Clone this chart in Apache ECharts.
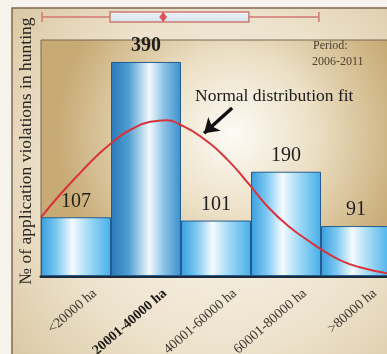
<!DOCTYPE html>
<html>
<head>
<meta charset="utf-8">
<script src="https://cdn.jsdelivr.net/npm/echarts@6/dist/echarts.min.js"></script>
<style>
  html, body { margin: 0; padding: 0; background: #f6f2ec; }
  #chart { width: 387px; height: 354px; }
</style>
</head>
<body>
<div id="chart"></div>
<script>
// Hunting-ground area classes and number of violations per class
const categories = ['<20000 ha', '20001-40000 ha', '40001-60000 ha', '60001-80000 ha', '>80000 ha'];
const violations = [107, 390, 101, 190, 91];

// Fitted normal curve, sampled along the area axis (ha)
const fitArea = [0, 5400, 11200, 16800, 22000, 25400, 31200, 36000, 39700, 45400, 53100, 59700, 65400, 71100, 76900, 79700, 85400, 91100, 98900];
const fitCount = [107, 148, 188, 224, 252, 266, 281, 284, 276, 255, 213, 165, 122, 89, 62, 50, 29, 16, 5];

// Box plot of area (ha): min, Q1, median, Q3, max, and mean
const areaBox = [300, 19700, 34900, 59400, 79400];
const areaMean = 34900;

const serif = '"Liberation Serif", "DejaVu Serif", serif';

const lightBar = new echarts.graphic.LinearGradient(0, 0, 1, 0, [
  { offset: 0, color: '#3a9fdf' },
  { offset: 0.22, color: '#7cc8f0' },
  { offset: 0.45, color: '#f4fbff' },
  { offset: 0.62, color: '#b7e2f7' },
  { offset: 1, color: '#45afe9' }
]);
const darkBar = new echarts.graphic.LinearGradient(0, 0, 1, 0, [
  { offset: 0, color: '#2a78b8' },
  { offset: 0.25, color: '#4f9ed2' },
  { offset: 0.55, color: '#f2f9fd' },
  { offset: 0.75, color: '#8cc4e6' },
  { offset: 1, color: '#3b8fcc' }
]);

const barData = violations.map((v, i) => ({
  value: v,
  itemStyle: { color: i === 1 ? darkBar : lightBar },
  label: { fontWeight: i === 1 ? 'bold' : 'normal' }
}));

const chart = echarts.init(document.getElementById('chart'), null, { renderer: 'canvas' });

chart.setOption({
  animation: false,
  backgroundColor: '#f6f2ec',
  graphic: [
    {
      type: 'rect', z: -100,
      shape: { x: 12, y: 8, width: 380, height: 350 },
      style: {
        fill: new echarts.graphic.RadialGradient(0.55, 0.5, 0.8, [
          { offset: 0, color: '#fbf7ef' },
          { offset: 0.6, color: '#ede2cc' },
          { offset: 1, color: '#d9c6a0' }
        ]),
        stroke: '#7d6a52', lineWidth: 1.5
      }
    },
    {
      type: 'text', left: 195, top: 87, z: 10,
      style: { text: 'Normal distribution fit', font: '17.5px ' + serif, fill: '#1a1a1a' }
    },
    {
      type: 'text', left: 313, top: 40, z: 10,
      style: { text: 'Period:', font: '12px ' + serif, fill: '#4d4030' }
    },
    {
      type: 'text', left: 312, top: 56, z: 10,
      style: { text: '2006-2011', font: '12px ' + serif, fill: '#4d4030' }
    }
  ],
  grid: [
    {
      left: 41, top: 40, width: 350, bottom: 78, show: true,
      outerBoundsMode: 'none', containLabel: false,
      backgroundColor: new echarts.graphic.RadialGradient(0.55, 0.4, 0.75, [
        { offset: 0, color: '#fdfbf6' },
        { offset: 0.45, color: '#ece0c6' },
        { offset: 1, color: '#c7aa74' }
      ]),
      borderColor: '#7a6650', borderWidth: 1
    },
    { left: 41, top: 12, width: 350, height: 10, outerBoundsMode: 'none' }
  ],
  xAxis: [
    {
      type: 'category', gridIndex: 0, data: categories,
      axisLine: { lineStyle: { color: '#1c2a3e', width: 3 } },
      axisTick: { show: false },
      axisLabel: {
        rotate: 41, margin: 32, padding: [0, -25, 0, 0],
        fontFamily: serif, fontSize: 14, color: '#3a342d',
        formatter: (v, i) => i === 1 ? '{b|' + v + '}' : v,
        rich: { b: { fontFamily: serif, fontSize: 14, fontWeight: 'bold', color: '#1e1a16' } }
      }
    },
    { type: 'value', gridIndex: 0, min: 0, max: 100000, show: false },
    { type: 'value', gridIndex: 1, min: 0, max: 100000, show: false }
  ],
  yAxis: [
    {
      type: 'value', gridIndex: 0, min: 0, max: 430,
      axisLine: { show: false }, axisTick: { show: false },
      axisLabel: { show: false }, splitLine: { show: false },
      name: '№ of application violations in hunting',
      nameLocation: 'middle', nameRotate: 90, nameGap: 6,
      nameTextStyle: { fontFamily: serif, fontSize: 17.5, color: '#2a2622', padding: [0, 0, 0, 14] }
    },
    { type: 'category', gridIndex: 1, data: [''], show: false }
  ],
  series: [
    {
      type: 'bar', xAxisIndex: 0, yAxisIndex: 0,
      data: barData, barCategoryGap: '0%',
      itemStyle: { borderColor: '#245c8e', borderWidth: 1 },
      label: {
        show: true, position: 'top', distance: 6,
        fontFamily: serif, fontSize: 20, color: '#1f1f1f'
      }
    },
    {
      type: 'line', xAxisIndex: 1, yAxisIndex: 0, z: 5,
      data: fitArea.map((a, i) => [a, fitCount[i]]),
      smooth: true, showSymbol: false,
      lineStyle: { color: '#d8323a', width: 2 },
      markLine: {
        silent: true, symbol: ['none', 'arrow'], symbolSize: 14,
        lineStyle: { color: '#111', width: 3.5, type: 'solid' },
        label: { show: false },
        data: [[{ coord: [54600, 306] }, { coord: [46600, 260] }]]
      }
    },
    {
      type: 'boxplot', xAxisIndex: 2, yAxisIndex: 1,
      data: [areaBox], boxWidth: [10, 10],
      itemStyle: {
        color: new echarts.graphic.LinearGradient(0, 0, 0, 1, [
          { offset: 0, color: '#eef3f6' },
          { offset: 1, color: '#d3e2ee' }
        ]),
        borderColor: '#d07a74', borderWidth: 1.5
      }
    },
    {
      type: 'scatter', xAxisIndex: 2, yAxisIndex: 1, z: 6,
      data: [[areaMean, 0]], symbol: 'diamond', symbolSize: [8, 10],
      itemStyle: { color: '#e0393a' }
    }
  ]
});
</script>
</body>
</html>
